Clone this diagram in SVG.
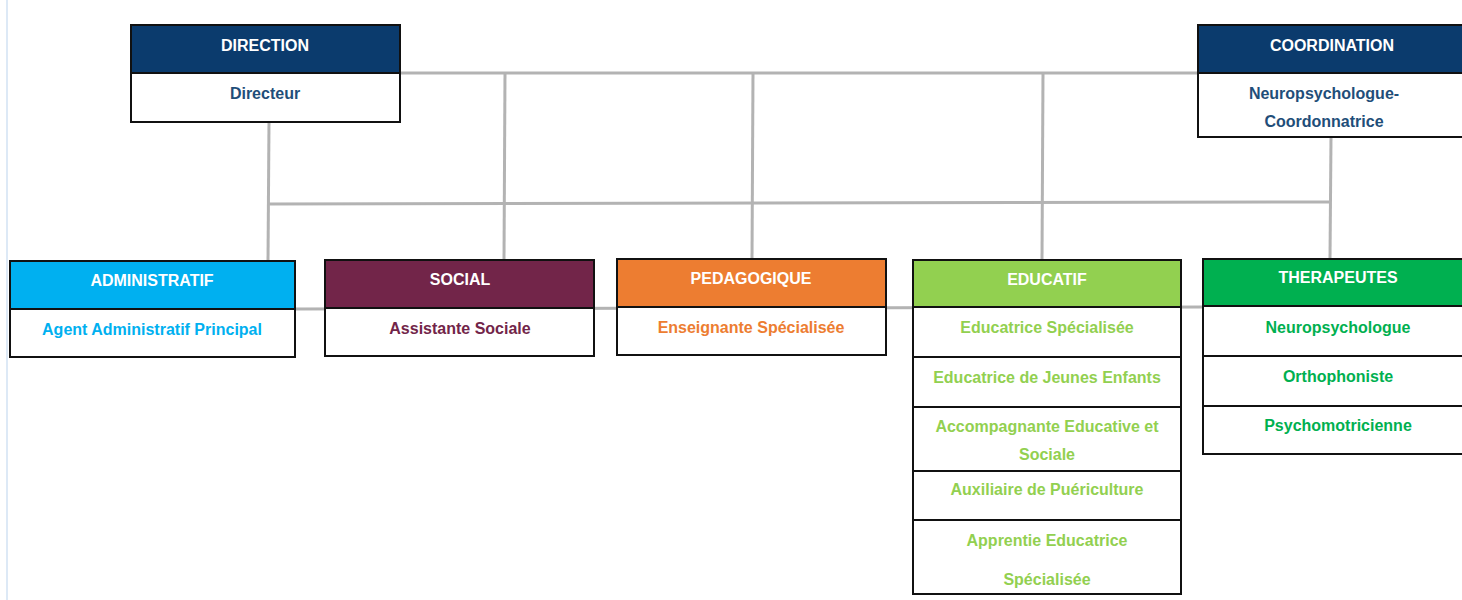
<svg xmlns="http://www.w3.org/2000/svg" width="1462" height="600" viewBox="0 0 1462 600">
<style>
.bx{fill:#fff;stroke:#111;stroke-width:2}
.hd{stroke:#111;stroke-width:2}
.ln{stroke:#b3b3b3;stroke-width:3;fill:none}
text{font-family:"Liberation Sans",Arial,sans-serif;font-weight:bold;font-size:16px;text-anchor:middle;dominant-baseline:central}
.w{fill:#fff}
</style>
<rect width="1462" height="600" fill="#fff"/>
<line x1="7" y1="0" x2="7" y2="600" stroke="#dde9f6" stroke-width="2"/>
<g id="connectors">
<polyline class="ln" points="400,73 1198,73"/>
<line class="ln" x1="505" y1="73" x2="504" y2="260"/>
<line class="ln" x1="753" y1="73" x2="752" y2="259"/>
<line class="ln" x1="1043" y1="73" x2="1042" y2="260"/>
<line class="ln" x1="269" y1="122" x2="268" y2="261"/>
<line class="ln" x1="1331" y1="137" x2="1330" y2="259"/>
<line class="ln" x1="269" y1="204" x2="1331" y2="202"/>
<line class="ln" x1="295" y1="309" x2="1203" y2="307"/>
</g>
<g id="direction">
<rect class="hd" x="131" y="25" width="269" height="48" fill="#0b3b6d"/>
<rect class="bx" x="131" y="73" width="269" height="49"/>
<text class="w" x="265" y="45">DIRECTION</text>
<text x="265" y="93" fill="#1f4e79">Directeur</text>
</g>
<g id="coordination">
<rect class="hd" x="1198" y="25" width="270" height="48" fill="#0b3b6d"/>
<rect class="bx" x="1198" y="73" width="270" height="64"/>
<text class="w" x="1332" y="45">COORDINATION</text>
<text x="1324" y="93" fill="#1f4e79">Neuropsychologue-</text>
<text x="1324" y="121" fill="#1f4e79">Coordonnatrice</text>
</g>
<g id="administratif">
<rect class="hd" x="10" y="261" width="285" height="48" fill="#00b0f0"/>
<rect class="bx" x="10" y="309" width="285" height="48"/>
<text class="w" x="152" y="280">ADMINISTRATIF</text>
<text x="152" y="329" fill="#00b0f0">Agent Administratif Principal</text>
</g>
<g id="social">
<rect class="hd" x="325" y="260" width="269" height="48" fill="#722549"/>
<rect class="bx" x="325" y="308" width="269" height="48"/>
<text class="w" x="460" y="279">SOCIAL</text>
<text x="460" y="328" fill="#722549">Assistante Sociale</text>
</g>
<g id="pedagogique">
<rect class="hd" x="617" y="259" width="269" height="48" fill="#ed7d31"/>
<rect class="bx" x="617" y="307" width="269" height="48"/>
<text class="w" x="751" y="278">PEDAGOGIQUE</text>
<text x="751" y="327" fill="#ed7d31">Enseignante Spécialisée</text>
</g>
<g id="educatif">
<rect class="hd" x="913" y="260" width="268" height="47" fill="#92d050"/>
<rect class="bx" x="913" y="307" width="268" height="50"/>
<rect class="bx" x="913" y="357" width="268" height="50"/>
<rect class="bx" x="913" y="407" width="268" height="64"/>
<rect class="bx" x="913" y="471" width="268" height="49"/>
<rect class="bx" x="913" y="520" width="268" height="74"/>
<text class="w" x="1047" y="279">EDUCATIF</text>
<g fill="#92d050">
<text x="1047" y="327">Educatrice Spécialisée</text>
<text x="1047" y="377">Educatrice de Jeunes Enfants</text>
<text x="1047" y="426">Accompagnante Educative et</text>
<text x="1047" y="454">Sociale</text>
<text x="1047" y="489">Auxiliaire de Puériculture</text>
<text x="1047" y="540">Apprentie Educatrice</text>
<text x="1047" y="579">Spécialisée</text>
</g>
</g>
<g id="therapeutes">
<rect class="hd" x="1203" y="259" width="265" height="47" fill="#00b050"/>
<rect class="bx" x="1203" y="306" width="265" height="50"/>
<rect class="bx" x="1203" y="356" width="265" height="50"/>
<rect class="bx" x="1203" y="406" width="265" height="48"/>
<text class="w" x="1338" y="277">THERAPEUTES</text>
<g fill="#00b050">
<text x="1338" y="327">Neuropsychologue</text>
<text x="1338" y="376">Orthophoniste</text>
<text x="1338" y="425">Psychomotricienne</text>
</g>
</g>
</svg>
